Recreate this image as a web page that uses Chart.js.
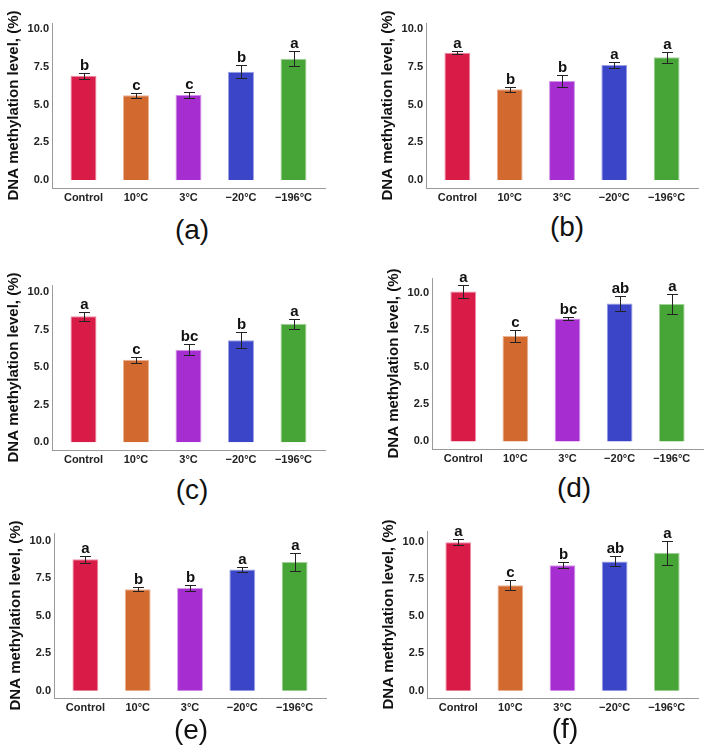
<!DOCTYPE html>
<html>
<head>
<meta charset="utf-8">
<script src="https://cdn.jsdelivr.net/npm/chart.js@4.4.1/dist/chart.umd.min.js"></script>
<style>
  html, body { margin: 0; padding: 0; background: #fff; }
  #wrap { position: relative; width: 711px; height: 749px; overflow: hidden; }
  .panel { position: absolute; }
  .tag {
    position: absolute;
    transform: translate(-50%, -50%);
    font: 28px "Liberation Sans", Arial, sans-serif;
    color: #111;
    white-space: nowrap;
  }
</style>
</head>
<body>
<div id="wrap"></div>
<script>
const categories = ['Control', '10°C', '3°C', '−20°C', '−196°C'];
const yTicks = [0, 2.5, 5, 7.5, 10];

// (a)
const meansA = [6.92, 5.62, 5.66, 7.19, 8.05];
const sdA = [0.20, 0.17, 0.19, 0.42, 0.49];
const lettersA = ['b', 'c', 'c', 'b', 'a'];
// (b)
const meansB = [8.45, 6.02, 6.57, 7.63, 8.14];
const sdB = [0.11, 0.17, 0.39, 0.21, 0.38];
const lettersB = ['a', 'b', 'b', 'a', 'a'];
// (c)
const meansC = [8.40, 5.51, 6.18, 6.80, 7.91];
const sdC = [0.29, 0.21, 0.37, 0.54, 0.33];
const lettersC = ['a', 'c', 'bc', 'b', 'a'];
// (d)
const meansD = [10.09, 7.09, 8.26, 9.28, 9.24];
const sdD = [0.42, 0.39, 0.10, 0.53, 0.69];
const lettersD = ['a', 'c', 'bc', 'ab', 'a'];
// (e)
const meansE = [8.76, 6.76, 6.85, 8.07, 8.58];
const sdE = [0.22, 0.14, 0.18, 0.19, 0.62];
const lettersE = ['a', 'b', 'b', 'a', 'a'];
// (f)
const meansF = [9.97, 7.08, 8.42, 8.68, 9.26];
const sdF = [0.22, 0.32, 0.21, 0.33, 0.82];
const lettersF = ['a', 'c', 'b', 'ab', 'a'];

const barColors = ['#D81B47', '#D26A30', '#A62ED1', '#3A46C7', '#47A436'];
const barEdges = ['#EC8FA5', '#E9B497', '#D497E8', '#9CA2E3', '#A3D19A'];

// plot-area placement of each panel in the page
const panels = [
  { tag: '(a)', means: meansA, sd: sdA, letters: lettersA, axisX: 52,  top: 23,  bottom: 188, right: 325, yMin: -0.53, yMax: 10.42, tagX: 192, tagY: 230 },
  { tag: '(b)', means: meansB, sd: sdB, letters: lettersB, axisX: 426, top: 23,  bottom: 188, right: 698, yMin: -0.53, yMax: 10.42, tagX: 567, tagY: 227 },
  { tag: '(c)', means: meansC, sd: sdC, letters: lettersC, axisX: 52,  top: 285, bottom: 450, right: 325, yMin: -0.51, yMax: 10.49, tagX: 192, tagY: 490 },
  { tag: '(d)', means: meansD, sd: sdD, letters: lettersD, axisX: 432, top: 278, bottom: 449, right: 703, yMin: -0.51, yMax: 10.99, tagX: 574, tagY: 488 },
  { tag: '(e)', means: meansE, sd: sdE, letters: lettersE, axisX: 54,  top: 533, bottom: 698, right: 326, yMin: -0.49, yMax: 10.51, tagX: 191, tagY: 730 },
  { tag: '(f)', means: meansF, sd: sdF, letters: lettersF, axisX: 427, top: 531, bottom: 698, right: 698, yMin: -0.49, yMax: 10.72, tagX: 565, tagY: 729 }
];

const FONT = '"Liberation Sans", Arial, sans-serif';

// error bars + significance letters
const errLetters = {
  id: 'errLetters',
  afterDatasetsDraw(chart) {
    const { ctx, scales: { x, y } } = chart;
    const ds = chart.data.datasets[0];
    ctx.save();
    ctx.strokeStyle = '#222';
    ctx.lineWidth = 1;
    ctx.fillStyle = '#111';
    ctx.font = 'bold 15px ' + FONT;
    ctx.textAlign = 'center';
    ctx.textBaseline = 'alphabetic';
    ds.data.forEach((pt, i) => {
      const cx = Math.round(x.getPixelForValue(pt.x)) + 0.5;
      const hi = Math.round(y.getPixelForValue(pt.y + ds.sd[i])) + 0.5;
      const lo = Math.round(y.getPixelForValue(pt.y - ds.sd[i])) + 0.5;
      ctx.beginPath();
      ctx.moveTo(cx, hi); ctx.lineTo(cx, lo);
      ctx.moveTo(cx - 5.5, hi); ctx.lineTo(cx + 5.5, hi);
      ctx.moveTo(cx - 5.5, lo); ctx.lineTo(cx + 5.5, lo);
      ctx.stroke();
      ctx.fillText(ds.letters[i], cx, hi - 4);
    });
    ctx.restore();
  }
};

const wrap = document.getElementById('wrap');

panels.forEach(p => {
  const left = p.axisX - 52;
  const top = p.top - 23;
  const width = Math.min(p.right + 30, 711) - left;
  const height = p.bottom + 20 - top;

  const box = document.createElement('div');
  box.className = 'panel';
  box.style.left = left + 'px';
  box.style.top = top + 'px';
  box.style.width = width + 'px';
  box.style.height = height + 'px';
  const canvas = document.createElement('canvas');
  box.appendChild(canvas);
  wrap.appendChild(box);

  const tag = document.createElement('div');
  tag.className = 'tag';
  tag.textContent = p.tag;
  tag.style.left = p.tagX + 'px';
  tag.style.top = p.tagY + 'px';
  wrap.appendChild(tag);

  new Chart(canvas, {
    type: 'bar',
    data: {
      datasets: [{
        data: p.means.map((v, i) => ({ x: i + 1, y: v })),
        sd: p.sd,
        letters: p.letters,
        backgroundColor: barColors,
        borderColor: barEdges,
        borderWidth: 1,
        borderSkipped: 'bottom',
        categoryPercentage: 1,
        barPercentage: 0.495
      }]
    },
    options: {
      responsive: true,
      maintainAspectRatio: false,
      animation: false,
      layout: {
        padding: { left: 0, top: 23, right: width - (p.right - left), bottom: 0 }
      },
      plugins: {
        legend: { display: false },
        tooltip: { enabled: false }
      },
      scales: {
        x: {
          type: 'linear',
          min: 0.4,
          max: 5.6,
          offset: false,
          grid: { display: false, drawTicks: false, offset: false },
          border: { color: '#9a9a9a', width: 1 },
          afterBuildTicks: (scale) => {
            scale.ticks = categories.map((c, i) => ({ value: i + 1 }));
          },
          afterFit: (scale) => { scale.height = 20; },
          ticks: {
            autoSkip: false,
            maxRotation: 0,
            padding: 3,
            color: '#222',
            font: { family: FONT, size: 11, weight: 'bold' },
            callback: (v, i) => categories[i]
          }
        },
        y: {
          min: p.yMin,
          max: p.yMax,
          grid: { display: false, drawTicks: false },
          border: { color: '#9a9a9a', width: 1 },
          afterBuildTicks: (scale) => {
            scale.ticks = yTicks.map(v => ({ value: v }));
          },
          afterFit: (scale) => { scale.width = 52; },
          ticks: {
            padding: 3,
            color: '#222',
            font: { family: FONT, size: 11, weight: 'bold' },
            callback: (v) => Number(v).toFixed(1)
          },
          title: {
            display: true,
            text: 'DNA methylation level, (%)',
            color: '#111',
            padding: { top: 5, bottom: 0 },
            font: { family: FONT, size: 15, weight: 'bold' }
          }
        }
      }
    },
    plugins: [errLetters]
  });
});
</script>
</body>
</html>
